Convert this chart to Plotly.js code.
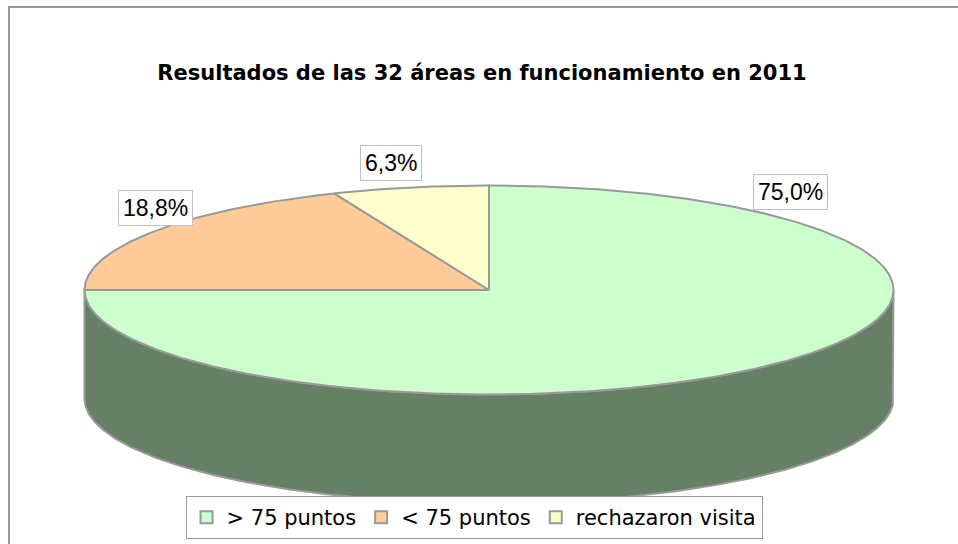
<!DOCTYPE html>
<html>
<head>
<meta charset="utf-8">
<script src="https://cdn.plot.ly/plotly-3.0.1.min.js"></script>
<style>html,body{margin:0;padding:0;background:#fff;}#chart{width:958px;height:544px;}</style>
</head>
<body>
<div id="chart"></div>
<script>
// ---- data ----
const categories = ['> 75 puntos', '< 75 puntos', 'rechazaron visita'];
const counts = [24, 6, 2];
const topColors = ['#CCFFCC', '#FFCC99', '#FFFFCC'];
const titleText = 'Resultados de las 32 áreas en funcionamiento en 2011';

// ---- geometry (pixel space, axes map 1:1 to page pixels) ----
const W = 958, H = 544;
const cx = 489, cy = 290, rx = 404.5, ry = 104.5, depth = 108.5;
const edge = '#999999';

function halfColor(hex) {
  const n = parseInt(hex.slice(1), 16);
  const r = (n >> 16) & 255, g = (n >> 8) & 255, b = n & 255;
  return 'rgb(' + Math.round(r / 2) + ',' + Math.round(g / 2) + ',' + Math.round(b / 2) + ')';
}
function arc(a0, a1, dy, xs, ys) {
  const steps = Math.max(2, Math.ceil(Math.abs(a1 - a0) / 0.5));
  for (let i = 0; i <= steps; i++) {
    const t = (a0 + (a1 - a0) * i / steps) * Math.PI / 180;
    xs.push(cx + rx * Math.cos(t));
    ys.push(cy - ry * Math.sin(t) + dy);
  }
}

const total = counts.reduce((s, v) => s + v, 0);
const slices = [];
let start = 90;
counts.forEach((v, i) => {
  const end = start - v / total * 360;
  slices.push({a0: start, a1: end, i: i});
  start = end;
});

const traces = [];
// side walls (front half only)
slices.forEach(s => {
  for (let k = -2; k <= 1; k++) {
    const lo = 180 + 360 * k, hi = 360 + 360 * k;
    const a = Math.max(s.a1, lo), b = Math.min(s.a0, hi);
    if (b > a) {
      const xs = [], ys = [];
      arc(a, b, 0, xs, ys);
      arc(b, a, depth, xs, ys);
      xs.push(xs[0]); ys.push(ys[0]);
      traces.push({
        type: 'scatter', mode: 'lines', x: xs, y: ys, fill: 'toself',
        fillcolor: halfColor(topColors[s.i]),
        line: {color: edge, width: 2}, hoverinfo: 'skip', showlegend: false
      });
    }
  }
});
// top faces
slices.forEach(s => {
  const xs = [cx], ys = [cy];
  arc(s.a0, s.a1, 0, xs, ys);
  xs.push(cx); ys.push(cy);
  traces.push({
    type: 'scatter', mode: 'lines', x: xs, y: ys, fill: 'toself',
    fillcolor: topColors[s.i],
    line: {color: edge, width: 2}, hoverinfo: 'skip', showlegend: false
  });
});
// legend entries
categories.forEach((c, i) => {
  traces.push({
    type: 'scatter', mode: 'markers', x: [null], y: [null], name: c,
    marker: {symbol: 'square', size: 12, color: topColors[i], line: {color: edge, width: 2}},
    showlegend: true, hoverinfo: 'skip'
  });
});

// percentage labels
const labelPos = [[790, 192], [155.5, 207.5], [390.5, 163]];
const annotations = counts.map((v, i) => ({
  x: labelPos[i][0], y: labelPos[i][1], xref: 'x', yref: 'y',
  text: (v / total * 100).toFixed(1).replace('.', ',') + '%',
  showarrow: false, xanchor: 'center', yanchor: 'middle',
  font: {family: 'Liberation Sans, Arial, sans-serif', size: 23, color: '#000'},
  bgcolor: '#ffffff', bordercolor: '#c0c0c0', borderwidth: 1, borderpad: 4
}));

const layout = {
  width: W, height: H,
  margin: {l: 0, r: 0, t: 0, b: 0, pad: 0},
  paper_bgcolor: '#ffffff', plot_bgcolor: '#ffffff',
  xaxis: {range: [0, W], visible: false, fixedrange: true},
  yaxis: {range: [H, 0], visible: false, fixedrange: true},
  title: {
    text: '<b>' + titleText + '</b>',
    x: 482 / W, xanchor: 'center', xref: 'paper',
    y: 1 - 73 / H, yanchor: 'middle', yref: 'paper',
    font: {family: 'DejaVu Sans, sans-serif', size: 21, color: '#000'}
  },
  showlegend: true,
  legend: {
    orientation: 'h', x: 474 / W, xanchor: 'center', y: 1 - 496 / H, yanchor: 'top',
    bgcolor: '#ffffff', bordercolor: '#999999', borderwidth: 1,
    font: {family: 'DejaVu Sans, sans-serif', size: 21, color: '#000'},
    itemsizing: 'constant', traceorder: 'normal', itemwidth: 30
  },
  annotations: annotations,
  shapes: [{
    type: 'rect', xref: 'paper', yref: 'paper',
    x0: 9 / W, y0: -0.1, x1: 1.1, y1: 1 - 7 / H,
    line: {color: '#999999', width: 2}, fillcolor: 'rgba(0,0,0,0)', layer: 'below'
  }]
};

Plotly.newPlot('chart', traces, layout, {staticPlot: true, displayModeBar: false});
</script>
</body>
</html>
